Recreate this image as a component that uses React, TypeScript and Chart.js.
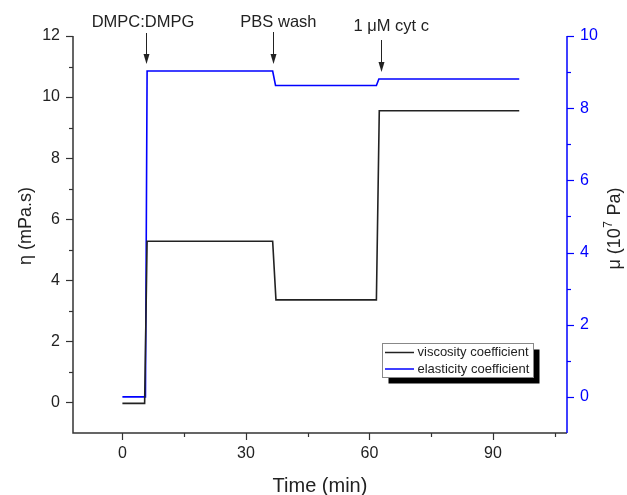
import React, { useEffect, useRef } from "react";
import { Chart, registerables } from "chart.js";

Chart.register(...registerables);

// ---- data ----
const viscosityTime = [0, 5.4, 6.0, 36.5, 37.3, 61.7, 62.4, 96.4];
const viscosityValue = [-0.03, -0.03, 5.28, 5.28, 3.36, 3.36, 9.55, 9.55];
const elasticityTime = [0, 5.6, 6.0, 36.5, 37.2, 61.7, 62.3, 96.4];
const elasticityValue = [0, 0, 9.03, 9.03, 8.63, 8.63, 8.81, 8.81];

const xTicks = [0, 30, 60, 90];
const xMinorTicks = [15, 45, 75, 105];
const leftTicks = [0, 2, 4, 6, 8, 10, 12];
const leftMinorTicks = [1, 3, 5, 7, 9, 11];
const rightTicks = [0, 2, 4, 6, 8, 10];
const rightMinorTicks = [1, 3, 5, 7, 9];

const annotationLabels = ["DMPC:DMPG", "PBS wash", "1 \u03bcM cyt c"];
const annotationTimes = [5.7, 36.6, 62.7];

const seriesNames = ["viscosity coefficient", "elasticity coefficient"];

const FONT = '"Liberation Sans", Arial, sans-serif';
const BLACK = "#222222";
const BLUE = "#0000ff";

const toPoints = (xs: number[], ys: number[]) => xs.map((x, i) => ({ x, y: ys[i] }));

const overlay = {
  id: "overlay",
  afterDraw(chart: any) {
    const { ctx, chartArea, scales } = chart;
    const xs = scales.x;
    const yl = scales.y;
    const yr = scales.y1;
    const { left, right, top, bottom } = chartArea;
    ctx.save();

    // axes lines
    ctx.lineWidth = 1.5;
    ctx.strokeStyle = "#333333";
    ctx.beginPath();
    ctx.moveTo(left, top);
    ctx.lineTo(left, bottom);
    ctx.lineTo(right, bottom);
    ctx.stroke();
    ctx.strokeStyle = BLUE;
    ctx.beginPath();
    ctx.moveTo(right, top);
    ctx.lineTo(right, bottom);
    ctx.stroke();

    // tick marks
    ctx.lineWidth = 1.2;
    ctx.strokeStyle = "#333333";
    const tickX = (vals: number[], len: number) => {
      vals.forEach((v) => {
        const px = Math.round(xs.getPixelForValue(v)) + 0.5;
        ctx.beginPath();
        ctx.moveTo(px, bottom);
        ctx.lineTo(px, bottom + len);
        ctx.stroke();
      });
    };
    tickX(xTicks, 7);
    tickX(xMinorTicks, 4);
    const tickL = (vals: number[], len: number) => {
      vals.forEach((v) => {
        const py = Math.round(yl.getPixelForValue(v)) + 0.5;
        ctx.beginPath();
        ctx.moveTo(left, py);
        ctx.lineTo(left - len, py);
        ctx.stroke();
      });
    };
    tickL(leftTicks, 7);
    tickL(leftMinorTicks, 4);
    ctx.strokeStyle = BLUE;
    const tickR = (vals: number[], len: number) => {
      vals.forEach((v) => {
        const py = Math.round(yr.getPixelForValue(v)) + 0.5;
        ctx.beginPath();
        ctx.moveTo(right, py);
        ctx.lineTo(right + len, py);
        ctx.stroke();
      });
    };
    tickR(rightTicks, 7);
    tickR(rightMinorTicks, 4);

    // axis titles
    ctx.fillStyle = BLACK;
    ctx.textAlign = "center";
    ctx.textBaseline = "middle";
    ctx.font = `20px ${FONT}`;
    ctx.fillText("Time (min)", (left + right) / 2, 486);

    ctx.font = `18px ${FONT}`;
    ctx.save();
    ctx.translate(26, 226);
    ctx.rotate(-Math.PI / 2);
    ctx.fillText("\u03b7 (mPa.s)", 0, 0);
    ctx.restore();

    // right title with superscript
    ctx.save();
    ctx.translate(615, 229);
    ctx.rotate(-Math.PI / 2);
    const p1 = "\u03bc (10";
    const p2 = "7";
    const p3 = " Pa)";
    ctx.font = `18px ${FONT}`;
    const w1 = ctx.measureText(p1).width;
    const w3 = ctx.measureText(p3).width;
    ctx.font = `12px ${FONT}`;
    const w2 = ctx.measureText(p2).width;
    const total = w1 + w2 + w3;
    let cx = -total / 2;
    ctx.textAlign = "left";
    ctx.font = `18px ${FONT}`;
    ctx.fillText(p1, cx, 0);
    cx += w1;
    ctx.font = `12px ${FONT}`;
    ctx.fillText(p2, cx + 0.5, -6);
    cx += w2 + 1;
    ctx.font = `18px ${FONT}`;
    ctx.fillText(p3, cx, 0);
    ctx.restore();

    // annotations
    const textOffsets = [-0.7, 1.3, 2.6];
    const baselines = [27, 26.5, 31];
    const arrowTop = [33, 32, 40];
    const arrowTip = [64, 64, 72];
    ctx.font = `16.5px ${FONT}`;
    ctx.textAlign = "center";
    ctx.textBaseline = "alphabetic";
    annotationLabels.forEach((lab, i) => {
      const ax = Math.round(xs.getPixelForValue(annotationTimes[i])) + 0.5;
      const tx = xs.getPixelForValue(annotationTimes[i] + textOffsets[i]);
      ctx.fillStyle = BLACK;
      ctx.fillText(lab, tx, baselines[i]);
      ctx.strokeStyle = BLACK;
      ctx.lineWidth = 1;
      ctx.beginPath();
      ctx.moveTo(ax, arrowTop[i]);
      ctx.lineTo(ax, arrowTip[i] - 6);
      ctx.stroke();
      ctx.beginPath();
      ctx.moveTo(ax - 3, arrowTip[i] - 10);
      ctx.lineTo(ax + 3, arrowTip[i] - 10);
      ctx.lineTo(ax, arrowTip[i]);
      ctx.closePath();
      ctx.fill();
    });

    // legend
    const lx = 382.5, ly = 343.5, lw = 151, lh = 34;
    ctx.fillStyle = "#000000";
    ctx.fillRect(lx + 6, ly + 6, lw, lh);
    ctx.fillStyle = "#ffffff";
    ctx.fillRect(lx, ly, lw, lh);
    ctx.strokeStyle = "#888888";
    ctx.lineWidth = 1;
    ctx.strokeRect(lx, ly, lw, lh);
    const colors = [BLACK, BLUE];
    const rows = [352.5, 369];
    ctx.font = `13px ${FONT}`;
    ctx.textAlign = "left";
    ctx.textBaseline = "middle";
    seriesNames.forEach((nm, i) => {
      ctx.strokeStyle = colors[i];
      ctx.lineWidth = 1.5;
      ctx.beginPath();
      ctx.moveTo(385, rows[i]);
      ctx.lineTo(414, rows[i]);
      ctx.stroke();
      ctx.fillStyle = BLACK;
      ctx.fillText(nm, 417.5, rows[i]);
    });

    ctx.restore();
  },
};

export default function App() {
  const ref = useRef<HTMLCanvasElement | null>(null);
  useEffect(() => {
    if (!ref.current) return;
    const chart = new Chart(ref.current, {
      type: "line",
      data: {
        datasets: [
          {
            label: seriesNames[0],
            data: toPoints(viscosityTime, viscosityValue),
            borderColor: BLACK,
            borderWidth: 1.6,
            pointRadius: 0,
            yAxisID: "y",
            tension: 0,
          },
          {
            label: seriesNames[1],
            data: toPoints(elasticityTime, elasticityValue),
            borderColor: BLUE,
            borderWidth: 1.6,
            pointRadius: 0,
            yAxisID: "y1",
            tension: 0,
          },
        ],
      },
      options: {
        animation: false,
        responsive: false,
        layout: { padding: { top: 36, left: 0, right: 0, bottom: 0 } },
        plugins: { legend: { display: false }, tooltip: { enabled: false } },
        scales: {
          x: {
            type: "linear",
            min: -12,
            max: 108,
            grid: { display: false, drawTicks: false },
            border: { display: false },
            afterBuildTicks: (s: any) => {
              s.ticks = xTicks.map((v) => ({ value: v }));
            },
            afterFit: (s: any) => {
              s.height = 62;
            },
            ticks: {
              padding: 11,
              color: BLACK,
              font: { family: FONT, size: 16 },
              maxRotation: 0,
            },
          },
          y: {
            type: "linear",
            position: "left",
            min: -1,
            max: 12,
            grid: { display: false, drawTicks: false },
            border: { display: false },
            afterBuildTicks: (s: any) => {
              s.ticks = leftTicks.map((v) => ({ value: v }));
            },
            afterFit: (s: any) => {
              s.width = 73;
            },
            ticks: {
              padding: 13,
              color: BLACK,
              font: { family: FONT, size: 16 },
            },
          },
          y1: {
            type: "linear",
            position: "right",
            min: -1,
            max: 10,
            grid: { display: false, drawTicks: false },
            border: { display: false },
            afterBuildTicks: (s: any) => {
              s.ticks = rightTicks.map((v) => ({ value: v }));
            },
            afterFit: (s: any) => {
              s.width = 60;
            },
            ticks: {
              padding: 13,
              color: BLUE,
              font: { family: FONT, size: 16 },
            },
          },
        },
      },
      plugins: [overlay],
    } as any);
    return () => chart.destroy();
  }, []);
  return (
    <div style={{ position: "fixed", top: 0, left: 0, width: 627, height: 495, background: "#fff" }}>
      <canvas ref={ref} width={627} height={495} style={{ display: "block" }} />
    </div>
  );
}
